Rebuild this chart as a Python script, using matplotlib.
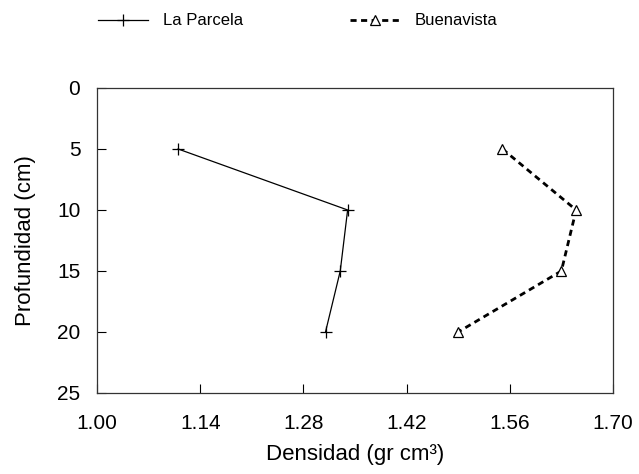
import numpy as np
import matplotlib
matplotlib.use("Agg")
import matplotlib.pyplot as plt

plt.rcParams['font.family'] = ['Liberation Sans', 'DejaVu Sans']

# Profundidad (cm) y densidad aparente (gr cm-3)
depth = [5, 10, 15, 20]
la_parcela = [1.11, 1.34, 1.33, 1.31]
buenavista = [1.55, 1.65, 1.63, 1.49]

x_ticks = [1.00, 1.14, 1.28, 1.42, 1.56, 1.70]
y_ticks = [0, 5, 10, 15, 20, 25]

fig = plt.figure(figsize=(6.39, 4.74), dpi=100)
ax = fig.add_axes([0.1518, 0.1709, 0.8075, 0.6435])

ax.plot(la_parcela, depth, color="black", lw=0.9, marker="+", ms=9,
        mew=0.9, label="La Parcela")
ax.plot(buenavista, depth, color="black", lw=2.0, ls=(0, (2.2, 1.6)),
        marker="^", ms=7, mfc="white", mec="black", mew=0.9,
        label="Buenavista")

ax.set_xlim(1.00, 1.70)
ax.set_ylim(25, 0)
ax.set_xticks(x_ticks)
ax.set_xticklabels(["%.2f" % v for v in x_ticks])
ax.set_yticks(y_ticks)
ax.tick_params(direction="in", length=6.5, width=0.8, labelsize=15,
               top=False, right=False, pad=12)
ax.tick_params(axis="x", pad=15)
for s in ax.spines.values():
    s.set_linewidth(0.9)
    s.set_color("#333333")

ax.set_xlabel("Densidad (gr cm³)", fontsize=16, labelpad=8)
ax.set_ylabel("Profundidad (cm)", fontsize=16, labelpad=15)

fig.legend(loc="center left", bbox_to_anchor=(0.143, 0.956), ncol=2,
           frameon=False, fontsize=12, handlelength=3.0, columnspacing=6.4,
           handletextpad=0.9, borderaxespad=0)

fig.savefig("out.png", dpi=100)
